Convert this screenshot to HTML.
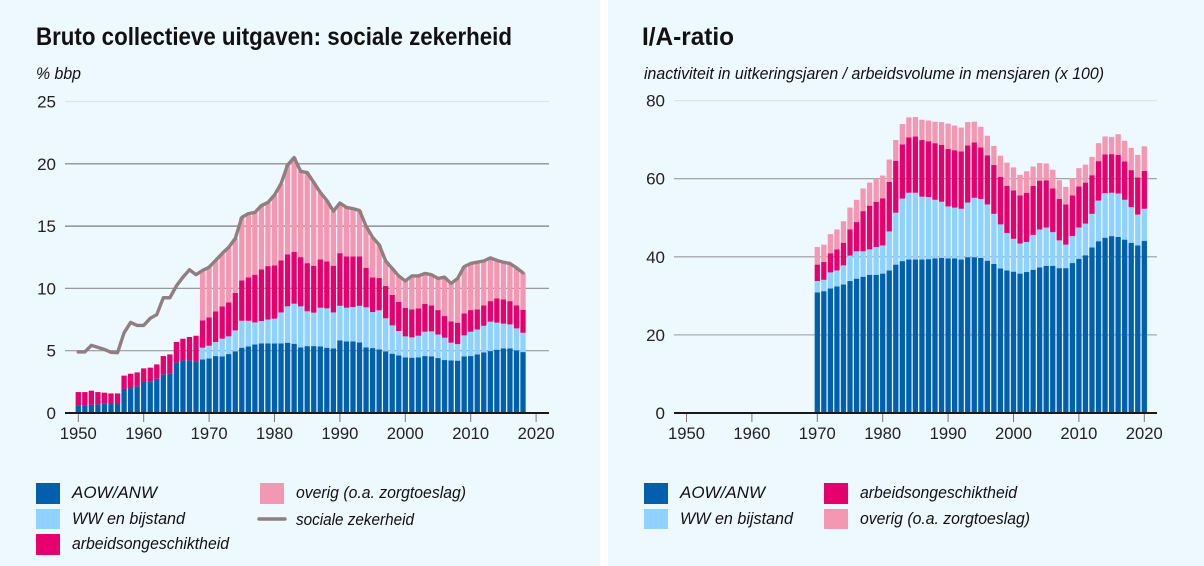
<!DOCTYPE html>
<html lang="nl">
<head>
<meta charset="utf-8">
<title>Bruto collectieve uitgaven en I/A-ratio</title>
<style>
html,body{margin:0;padding:0;background:#fff}
svg{display:block}
text{font-family:"Liberation Sans",sans-serif;fill:#111}
.title{font-size:25px;font-weight:700}
.sub,.leg{font-size:17px;font-style:italic}
.tick{font-size:17px;fill:#222}
</style>
</head>
<body>
<svg id="figure" width="1204" height="566" viewBox="0 0 1204 566" xmlns="http://www.w3.org/2000/svg">
<rect x="0" y="0" width="600" height="566" fill="#edf8ff"/>
<rect x="608" y="0" width="596" height="566" fill="#edf8ff"/>

<text class="title" x="36" y="45" textLength="476" lengthAdjust="spacingAndGlyphs">Bruto collectieve uitgaven: sociale zekerheid</text>
<text class="sub" x="36" y="79" textLength="45" lengthAdjust="spacingAndGlyphs">% bbp</text>
<text class="title" x="642" y="45" textLength="92" lengthAdjust="spacingAndGlyphs">I/A-ratio</text>
<text class="sub" x="644" y="79" textLength="460" lengthAdjust="spacingAndGlyphs">inactiviteit in uitkeringsjaren / arbeidsvolume in mensjaren (x 100)</text>

<g id="left-chart"></g>
<g id="right-chart"></g>

<g>
<rect x="36" y="483" width="24" height="21" fill="#0060ae"/>
<text class="leg" x="72" y="498" textLength="85" lengthAdjust="spacingAndGlyphs">AOW/ANW</text>
<rect x="36" y="509" width="24" height="20" fill="#8fd2ff"/>
<text class="leg" x="72" y="524" textLength="113" lengthAdjust="spacingAndGlyphs">WW en bijstand</text>
<rect x="36" y="534" width="24" height="21" fill="#e5006d"/>
<text class="leg" x="72" y="549" textLength="157" lengthAdjust="spacingAndGlyphs">arbeidsongeschiktheid</text>
<rect x="260" y="483" width="24" height="21" fill="#f497b2"/>
<text class="leg" x="296" y="498" textLength="170" lengthAdjust="spacingAndGlyphs">overig (o.a. zorgtoeslag)</text>
<line x1="259" y1="519" x2="285" y2="519" stroke="#8f7f7f" stroke-width="3.4" stroke-linecap="round"/>
<text class="leg" x="296" y="525" textLength="118" lengthAdjust="spacingAndGlyphs">sociale zekerheid</text>
</g>

<g>
<rect x="644" y="483" width="24" height="21" fill="#0060ae"/>
<text class="leg" x="680" y="498" textLength="85" lengthAdjust="spacingAndGlyphs">AOW/ANW</text>
<rect x="644" y="509" width="24" height="20" fill="#8fd2ff"/>
<text class="leg" x="680" y="524" textLength="113" lengthAdjust="spacingAndGlyphs">WW en bijstand</text>
<rect x="824" y="483" width="24" height="21" fill="#e5006d"/>
<text class="leg" x="860" y="498" textLength="157" lengthAdjust="spacingAndGlyphs">arbeidsongeschiktheid</text>
<rect x="824" y="509" width="24" height="20" fill="#f497b2"/>
<text class="leg" x="860" y="524" textLength="170" lengthAdjust="spacingAndGlyphs">overig (o.a. zorgtoeslag)</text>
</g>
</svg>

<script>
// ---- Left chart data: % bbp, years 1950..2018 ----
const leftFirstYear = 1950;
const leftAow = [.61,.61,.67,.69,.75,.72,.72,1.93,2.0,2.14,2.49,2.54,2.75,3.1,3.16,4.06,4.22,4.22,4.14,
 4.3,4.38,4.57,4.55,4.73,4.95,5.24,5.35,5.5,5.59,
 5.59,5.59,5.59,5.64,5.56,5.27,5.37,5.37,5.35,5.24,
 5.19,5.83,5.75,5.75,5.67,5.27,5.21,5.1,4.95,4.76,
 4.63,4.47,4.44,4.47,4.57,4.55,4.41,4.25,4.22,4.2,
 4.55,4.57,4.7,4.87,4.97,5.08,5.19,5.19,5.03,4.89];
const leftWw = [0,0,0,0,0,0,0,0,0,0,0,0,0,0,0,0,0,0,0,
 .94,1.02,1.13,1.41,1.42,1.68,2.16,2.05,1.77,1.79,
 1.91,1.98,2.48,2.92,3.21,3.29,2.79,2.68,3.1,3.16,
 2.88,2.77,2.7,2.75,2.93,3.21,2.89,3.14,2.65,2.27,
 1.95,1.68,1.63,1.73,1.95,2.0,1.89,1.79,1.42,1.33,
 1.68,1.95,2.0,2.13,2.36,2.17,1.98,1.92,1.76,1.55];
const leftAg = [1.07,1.07,1.12,.99,.88,.85,.85,1.07,1.15,1.12,1.09,1.1,1.15,1.47,1.54,1.64,1.74,1.88,2.06,
 2.19,2.27,2.46,2.6,2.73,3.0,3.24,3.48,3.83,4.14,
 4.29,4.27,4.18,4.17,4.17,3.95,3.87,3.77,3.88,3.77,
 3.75,4.23,4.12,4.07,3.97,3.18,2.78,2.59,2.59,2.44,
 2.35,2.3,2.25,2.2,2.25,2.09,1.96,1.74,1.71,1.72,
 1.77,1.74,1.62,1.64,1.65,1.95,1.95,1.87,1.85,1.85];
const leftOverig = [0,0,0,0,0,0,0,0,0,0,0,0,0,0,0,0,0,0,0,
 4.01,4.03,4.09,4.24,4.42,4.37,5.06,5.12,5,5.13,
 5.11,5.66,6.15,7.17,7.56,6.89,7.27,6.68,5.37,4.89,
 4.38,4.02,3.93,3.83,3.68,3.34,3.22,2.67,2.01,2.13,
 2.07,2.15,2.68,2.6,2.43,2.46,2.54,3.12,3.05,3.55,
 3.75,3.74,3.78,3.56,3.47,3.05,2.98,3.02,3.01,2.96];
const leftLine = [4.9,4.9,5.43,5.27,5.1,4.87,4.84,6.44,7.27,7.03,7.03,7.6,7.9,9.25,9.25,10.2,10.9,11.5,11.1,
 11.44,11.7,12.25,12.8,13.3,14,15.7,16,16.1,16.65,
 16.9,17.5,18.4,19.9,20.5,19.4,19.3,18.5,17.7,17.06,
 16.2,16.85,16.5,16.4,16.25,15,14.1,13.5,12.2,11.6,
 11,10.6,11,11,11.2,11.1,10.8,10.9,10.4,10.8,
 11.75,12,12.1,12.2,12.45,12.25,12.1,12,11.65,11.25];
const leftYTicks = [0,5,10,15,20,25];

// ---- Right chart data: I/A-ratio, years 1970..2020 ----
const rightFirstYear = 1970;
const rightAow = [30.9,31.2,31.9,32.4,32.9,33.8,34.4,34.9,35.4,35.4,
 35.7,36.5,38,38.9,39.3,39.3,39.3,39.4,39.6,39.7,
 39.6,39.6,39.3,39.9,39.9,39.7,39,38.2,37,36.5,
 36.2,35.7,36.1,36.7,37.3,37.7,37.7,37.1,37.1,38.4,
 39.5,40.4,42.4,44,44.9,45.3,45.1,44.4,43.6,42.9,44.1];
const rightWw = [2.9,2.9,4.1,4.1,4.9,6.5,7,6.5,6.5,7.1,
 7.2,10,13.3,16,17.1,17.1,16.1,15.9,15,14.4,
 13.3,13,13,14,15.2,15.1,14.4,12.8,11.3,9.6,
 8.4,7.7,7.7,8.9,9.7,9.8,8.6,7.1,6,6.9,
 8,8.1,8.6,10.4,11.4,11.1,11.1,10.2,9.1,7.9,8.2];
const rightAg = [4.2,4.6,4.9,5.4,5.8,6.7,7.5,10.3,11.2,11.6,
 12.1,12.7,13.3,13.9,14.2,14.4,14.5,14.3,14.5,14.6,
 14.7,14.7,14.7,14.6,14.2,13.2,12.6,12.5,12.2,12.1,
 12.4,12.3,12.6,12.6,12.5,12.1,11.2,10.6,10.3,10.4,
 10.5,10.5,9.9,10.1,9.9,9.9,9.9,9.8,9.5,9.5,9.7];
const rightOverig = [4.5,4.4,4.9,5.1,5.5,5.6,5.7,5.8,5.9,5.9,
 5.8,5.7,5.3,5.2,5.1,5,5.2,5.3,5.5,5.8,
 6.5,6.3,6.1,6,5.3,5.3,5,4.9,5.4,5.9,
 5.9,5.3,5.5,4.9,4.5,4.3,4.8,4.8,4.5,4.4,
 4.7,4.6,4.7,4.6,4.6,4.4,5.3,5.3,5.7,5.8,6.3];
const rightYTicks = [0,20,40,60,80];

// ---- Shared tick labels ----
const xTickYears = [1950,1960,1970,1980,1990,2000,2010,2020];

const SVGNS = 'http://www.w3.org/2000/svg';
const seriesColors = ['#0060ae','#8fd2ff','#e5006d','#f497b2'];
const seriesKeys = ['aow-anw','ww-en-bijstand','arbeidsongeschiktheid','overig'];

function make(tag, attrs, parent) {
  const el = document.createElementNS(SVGNS, tag);
  for (const k in attrs) el.setAttribute(k, attrs[k]);
  parent.appendChild(el);
  return el;
}

function gridColor(chartKey, value) {
  const maxTick = chartKey === 'left' ? 25 : 80;
  if (value === maxTick) return '#dbe5ea';
  if (chartKey === 'left') return value >= 15 ? '#7c7c7c' : '#9a9a9a';
  return value === 20 ? '#a8aeb2' : '#989b9d';
}

function drawChart(cfg) {
  const root = document.getElementById(cfg.key + '-chart');
  const x = year => cfg.x1950 + (year - 1950) * cfg.xPerYear;
  const y = value => cfg.y0 - value * cfg.yPerUnit;

  cfg.yTicks.forEach(t => {
    if (t !== 0) {
      const g = make('line', {x1: cfg.axisLeft, x2: cfg.axisRight, y1: y(t), y2: y(t), stroke: gridColor(cfg.key, t), 'stroke-width': 1.2}, root);
      
      
    }
    const lab = make('text', {class: 'tick', x: cfg.yLabelX, y: y(t) + 6, 'text-anchor': 'end'}, root);
    
    
    lab.textContent = t;
  });

  const barW = 5.3;
  const n = cfg.series[0].length;
  for (let i = 0; i < n; i++) {
    const year = cfg.firstYear + i;
    let cum = 0;
    cfg.series.forEach((s, si) => {
      const v = s[i];
      if (v > 0) {
        const r = make('rect', {x: x(year) - barW / 2, y: y(cum + v), width: barW, height: v * cfg.yPerUnit, fill: seriesColors[si]}, root);
        
        
      }
      cum += v;
    });
  }

  if (cfg.line) {
    const pts = cfg.line.map((v, i) => x(cfg.firstYear + i).toFixed(2) + ',' + y(v).toFixed(2)).join(' ');
    const pl = make('polyline', {points: pts, fill: 'none', stroke: '#8f7f7f', 'stroke-width': 3.4, 'stroke-linejoin': 'round', 'stroke-linecap': 'round'}, root);
    
    
  }

  const ax = make('line', {x1: cfg.axisLeft, x2: cfg.axisRight, y1: cfg.y0, y2: cfg.y0, stroke: '#1a1a1a', 'stroke-width': 2}, root);
  
  

  xTickYears.forEach(yr => {
    const tk = make('line', {x1: x(yr), x2: x(yr), y1: cfg.y0 + 1, y2: cfg.y0 + 9, stroke: '#777', 'stroke-width': 1}, root);
    
    
    const lab = make('text', {class: 'tick', x: x(yr) - 18.5, y: 439, textLength: 37, lengthAdjust: 'spacingAndGlyphs'}, root);
    
    
    lab.textContent = yr;
  });
}

drawChart({key: 'left', firstYear: leftFirstYear, series: [leftAow, leftWw, leftAg, leftOverig], line: leftLine, yTicks: leftYTicks,
  x1950: 78.3, xPerYear: 6.54, y0: 413, yPerUnit: 12.46, axisLeft: 65, axisRight: 549, yLabelX: 56});
drawChart({key: 'right', firstYear: rightFirstYear, series: [rightAow, rightWw, rightAg, rightOverig], line: null, yTicks: rightYTicks,
  x1950: 686.5, xPerYear: 6.54, y0: 413, yPerUnit: 3.905, axisLeft: 674, axisRight: 1157, yLabelX: 665});
</script>
</body>
</html>
